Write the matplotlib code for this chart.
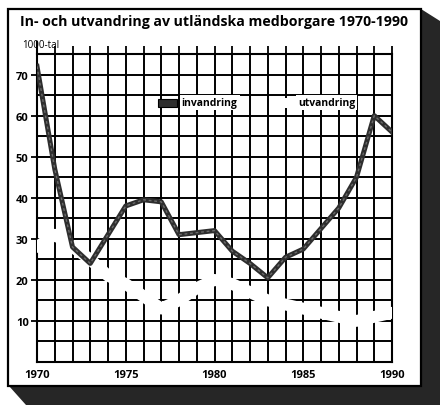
import matplotlib
matplotlib.use("Agg")
import matplotlib.pyplot as plt
from matplotlib.patches import Polygon, Rectangle
import numpy as np

years = list(range(1970, 1991))
invandring = [72, 47, 28, 24, 31, 38, 39.5, 39, 31, 31.5, 32, 27, 24, 20.5,
              25.5, 27.5, 32.5, 37.5, 45, 60, 56]
utvandring = [28, 31, 28, 25, 21, 19, 16, 13, 15, 18, 20, 19, 17, 15,
              14, 13, 12, 11, 10, 11, 12]
title = "In- och utvandring av utländska medborgare 1970-1990"
ylabel = "1000-tal"
series_labels = ["invandring", "utvandring"]
xticks = [1970, 1975, 1980, 1985, 1990]
yticks = [10, 20, 30, 40, 50, 60, 70]

W, H = 440, 406
fig = plt.figure(figsize=(W / 100, H / 100), dpi=100)
fig.patch.set_facecolor("white")

def fp(x, y):
    return (x / W, 1 - y / H)

# shadow / frame
shadow = Polygon([fp(421, 10), fp(440, 22), fp(440, 406), fp(26, 406),
                  fp(9, 387), fp(421, 387)], closed=True,
                 transform=fig.transFigure, facecolor="#262626", edgecolor="none", zorder=-3)
fig.add_artist(shadow)
panel = Rectangle(fp(8, 387), (421 - 8) / W, (387 - 10) / H, transform=fig.transFigure,
                  facecolor="white", edgecolor="black", linewidth=1.6, zorder=-2)
fig.add_artist(panel)

ax = fig.add_axes([37 / W, 1 - 363 / H, (392 - 37) / W, (363 - 55) / H])
ax.set_xlim(1970, 1990)
ax.set_ylim(0, 75)
ax.set_facecolor("none")

for s in ax.spines.values():
    s.set_linewidth(1.5)
    s.set_color("black")
ax.spines["left"].set_bounds(0, 78)

# grid
for yr in range(1971, 1990):
    ax.axvline(yr, color="black", lw=1.4, zorder=1)
for v in range(5, 75, 5):
    ax.axhline(v, color="black", lw=1.4, zorder=1)

ax.set_xticks(xticks)
ax.set_xticklabels([str(t) for t in xticks], fontsize=8, fontweight="bold",
                   family="Open Sans")
ax.set_yticks(yticks)
ax.set_yticklabels([str(t) for t in yticks], fontsize=8, fontweight="bold",
                   family="Open Sans")
ax.tick_params(axis="x", length=0, pad=5)
ax.tick_params(axis="y", length=4, width=1.3, pad=2, direction="out")

# top tick marks
secx = ax.secondary_xaxis("top")
secx.set_xticks(range(1971, 1991))
secx.set_xticklabels([])
secx.tick_params(length=6, width=1.3, direction="out")
secx.spines["top"].set_visible(False)

# lines
ax.plot(years, utvandring, color="white", lw=8.5, solid_capstyle="round",
        solid_joinstyle="round", zorder=3)
ax.plot(years, invandring, color="#2e2e2e", lw=3.6, solid_joinstyle="round",
        zorder=4)
ax.plot(years, invandring, color="#6a6a6a", lw=1.0, ls=(0, (2, 2)), zorder=5)

# legend
ax.add_patch(Rectangle((1976.8, 62.2), 1.1, 1.9, facecolor="#2e2e2e",
                       edgecolor="black", lw=0.8, zorder=6))
ax.add_patch(Rectangle((1983.4, 61.8), 1.1, 2.6, facecolor="white",
                       edgecolor="none", zorder=6))
ax.text(1978.15, 63.2, series_labels[0], fontsize=7.5, fontweight="bold",
        family="Open Sans", va="center", ha="left", zorder=7,
        bbox=dict(facecolor="white", edgecolor="none", pad=1.5))
ax.text(1984.7, 63.2, series_labels[1], fontsize=7.5, fontweight="bold",
        family="Open Sans", va="center", ha="left", zorder=7,
        bbox=dict(facecolor="white", edgecolor="none", pad=1.5))

fig.text(20 / W, 1 - 22 / H, title, fontsize=10.2, fontweight="bold",
         family="Open Sans", va="center", ha="left")
fig.text(22 / W, 1 - 45 / H, ylabel, fontsize=7, family="Open Sans",
         va="center", ha="left")

fig.savefig("out.png", dpi=100)
